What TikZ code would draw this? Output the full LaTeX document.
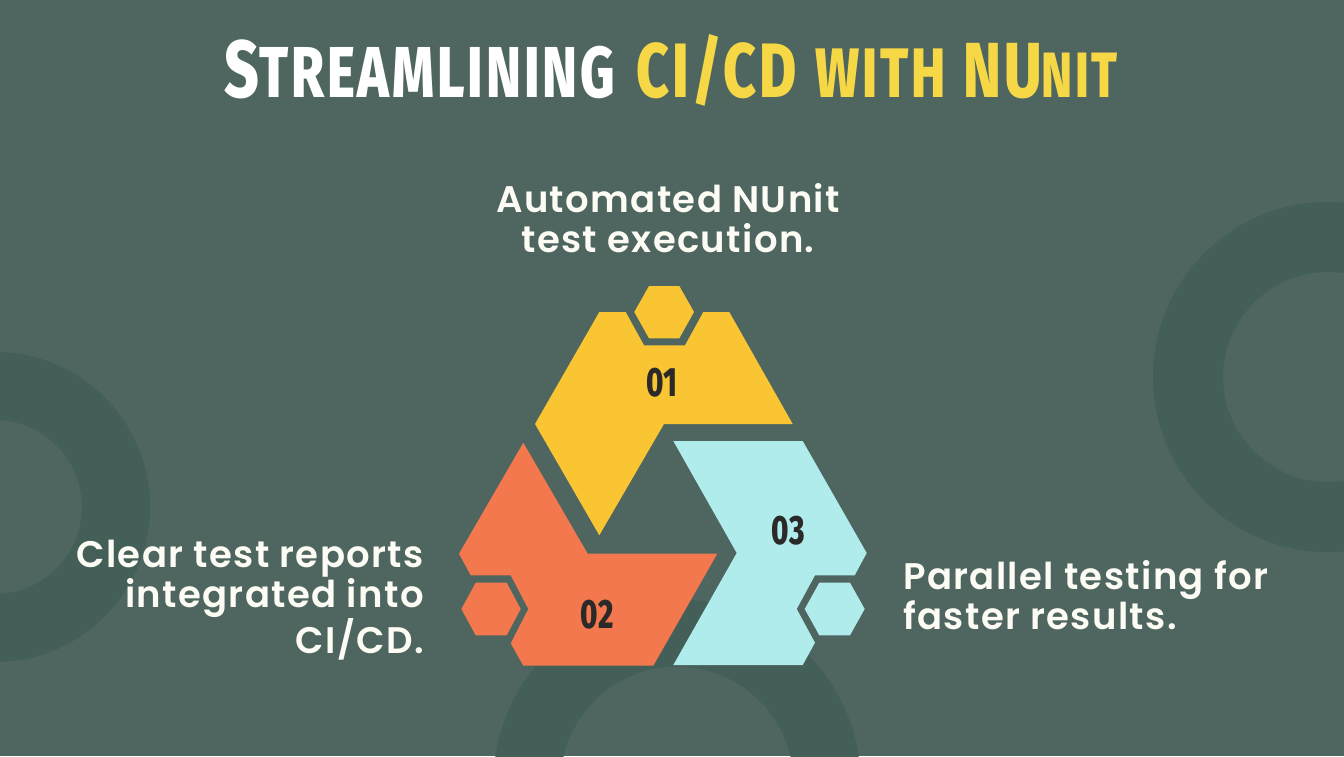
\documentclass[tikz,border=0pt]{standalone}
\usepackage{fontspec}
\setmainfont[LetterSpace=3.7]{Poppins SemiBold}
\newfontfamily\titlefont[FakeStretch=0.74, LetterSpace=4]{Fira Sans ExtraBold}
\newfontfamily\numfont[FakeStretch=0.72, LetterSpace=2]{Fira Sans ExtraBold}
\definecolor{slate}{HTML}{4E6560}
\definecolor{ringtone}{HTML}{445E58}
\definecolor{sunny}{HTML}{F9C533}
\definecolor{titleyellow}{HTML}{F6D846}
\definecolor{coral}{HTML}{F3784E}
\definecolor{aqua}{HTML}{B0ECEC}
\definecolor{inkdark}{HTML}{2B2A28}
\definecolor{offwhite}{HTML}{FCFBF4}
\tikzset{
    bodytext/.style={text=offwhite, font=\fontsize{37}{40.5}\selectfont, inner sep=0pt},
    numtext/.style={text=inkdark, font=\fontsize{41}{44}\numfont, inner sep=0pt},
    ring/.style={draw=ringtone, fill=none}
}
\begin{document}
\begin{tikzpicture}[x=1pt, y=-1pt]
    \useasboundingbox (0, 0) rectangle (1344, 756);
    \fill[slate] (0, 0) rectangle (1344, 756);
    \clip (0, 0) rectangle (1344, 756);

    % background rings
    \draw[ring, line width=70] (1328, 377) circle (140);
    \draw[ring, line width=68] (-5, 507) circle (121);
    \draw[ring, line width=67] (677, 783) circle (150);

    % yellow piece
    \fill[sunny] (535, 424) -- (599.3, 312) -- (625.7, 312) -- (644, 345.3) -- (685, 345.3) -- (703.3, 312) -- (729.3, 312) -- (792.7, 424) -- (664, 424) -- (599.3, 535.3) -- cycle;
    \fill[sunny] (634.3, 312) -- (649, 286) -- (679.3, 286) -- (694, 312) -- (679.3, 338.3) -- (649, 338.3) -- cycle;

    % orange piece
    \fill[coral] (523.3, 442.7) -- (587.7, 553.7) -- (717.3, 553.7) -- (653.3, 665.7) -- (523.3, 665.7) -- (510.7, 643.3) -- (528.3, 609) -- (510.7, 575.3) -- (470.7, 575.3) -- (459, 553.7) -- cycle;
    \fill[coral] (461.3, 609) -- (475.7, 582.7) -- (506.7, 582.7) -- (520.7, 609) -- (506.7, 635.3) -- (475.7, 635.3) -- cycle;

    % blue piece
    \fill[aqua] (673.3, 441) -- (802.7, 441) -- (866.7, 553) -- (854.7, 575.3) -- (815, 575.3) -- (796.7, 609) -- (815, 642.7) -- (802.7, 665) -- (673.3, 665) -- (736.7, 553) -- cycle;
    \fill[aqua] (804.7, 609) -- (819.3, 582.7) -- (850, 582.7) -- (864.7, 609) -- (850, 635.3) -- (819.3, 635.3) -- cycle;

    \node[numtext] (num1) at (662, 383) {01};
    \node[numtext] (num2) at (597, 615) {02};
    \node[numtext] (num3) at (788, 531) {03};

    \node[inner sep=0pt, text=white] (title) at (671, 70) {\titlefont
        \fontsize{81}{86}\selectfont S\fontsize{72}{86}\selectfont TREAMLINING\hspace{6pt}
        \color{titleyellow}\fontsize{77}{86}\selectfont CI/CD\hspace{2pt} \fontsize{70}{86}\selectfont WITH\hspace{3pt} \fontsize{78}{86}\selectfont NU\fontsize{64}{86}\selectfont NIT};

    \node[bodytext, align=center] (auto) at (668, 218) {Automated NUnit\\test execution.};
    \node[bodytext, align=right, anchor=east] (clear) at (424, 600) {Clear test reports\\integrated into\\CI/CD.};
    \node[bodytext, align=left, anchor=west] (parallel) at (903, 595) {Parallel testing for\\faster results.};
\end{tikzpicture}
\end{document}
